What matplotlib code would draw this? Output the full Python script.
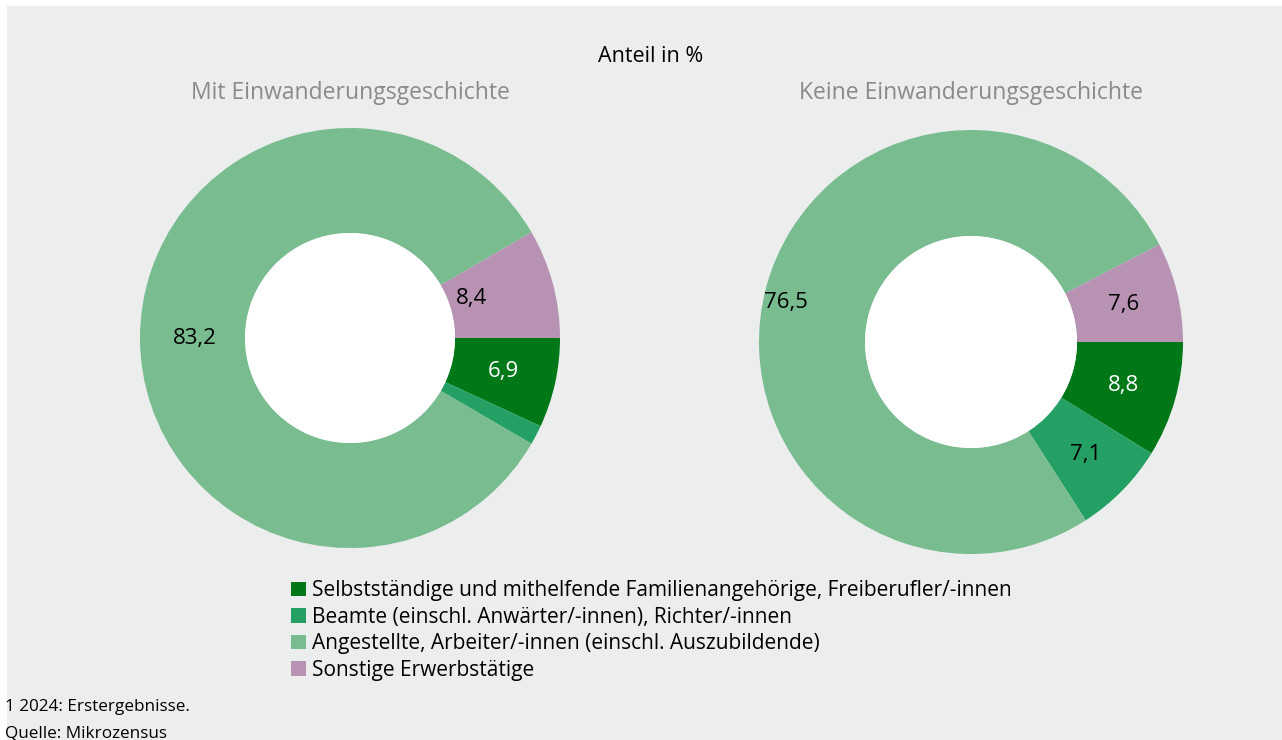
import matplotlib
matplotlib.use("Agg")
import matplotlib.pyplot as plt
from matplotlib.patches import Patch, Rectangle, Circle
import numpy as np

plt.rcParams['font.family'] = ['Open Sans', 'DejaVu Sans']

categories = [
    "Selbstständige und mithelfende Familienangehörige, Freiberufler/-innen",
    "Beamte (einschl. Anwärter/-innen), Richter/-innen",
    "Angestellte, Arbeiter/-innen (einschl. Auszubildende)",
    "Sonstige Erwerbstätige",
]
colors = ["#007818", "#24a064", "#78bc90", "#b892b2"]
mit_values = [6.9, 1.5, 83.2, 8.4]
mit_labels = ["6,9", "", "83,2", "8,4"]
keine_values = [8.8, 7.1, 76.5, 7.6]
keine_labels = ["8,8", "7,1", "76,5", "7,6"]
label_colors = ["white", "black", "black", "black"]
titles = ["Mit Einwanderungsgeschichte", "Keine Einwanderungsgeschichte"]

W, H = 1282, 740
fig = plt.figure(figsize=(W / 100, H / 100), dpi=100)
fig.patch.set_facecolor("white")
fig.patches.append(Rectangle((7 / W, 0), 1 - 7 / W, (H - 6) / H,
                             transform=fig.transFigure, facecolor="#eceeed",
                             edgecolor="none", zorder=-10))


def donut(cx, cy, r, values, labels, title, label_r, label_da):
    ax = fig.add_axes([(cx - r) / W, (H - cy - r) / H, 2 * r / W, 2 * r / H])
    wedges, _ = ax.pie(values, colors=colors, startangle=0, counterclock=False,
                       radius=1.0, wedgeprops=dict(width=0.5, linewidth=0))
    ax.add_patch(Circle((0, 0), 0.5, facecolor="white", edgecolor="none"))
    for w, lab, col, lr, da in zip(wedges, labels, label_colors, label_r, label_da):
        if not lab:
            continue
        ang = np.deg2rad((w.theta1 + w.theta2) / 2 + da)
        ax.text(lr * np.cos(ang), lr * np.sin(ang), lab, ha="center",
                va="center", color=col, fontsize=16)
    ax.set_xlim(-1, 1)
    ax.set_ylim(-1, 1)
    ax.set_aspect("equal")
    ax.axis("off")
    fig.text(cx / W, 1 - 93 / H, title, ha="center", va="center",
             color="#8a8a8a", fontsize=16.5)
    return ax


axl = donut(350, 338, 210, mit_values, mit_labels, titles[0],
            [0.75, 0.75, 0.74, 0.61], [0, 0, 0, 3])
axr = donut(971, 342, 212, keine_values, keine_labels, titles[1],
            [0.75, 0.76, 0.89, 0.74], [0, 0, 3, 0])

fig.text(651 / W, 1 - 57 / H, "Anteil in %", ha="center", va="center",
         color="black", fontsize=15.5)

handles = [Patch(facecolor=c, edgecolor="none") for c in colors]
fig.legend(handles, categories, loc="upper left",
           bbox_to_anchor=(283 / W, 1 - 572 / H), frameon=False,
           fontsize=15, handlelength=0.7, handleheight=0.7,
           handletextpad=0.3, labelspacing=0.26, borderaxespad=0)

fig.text(5 / W, 1 - 707 / H, "1 2024: Erstergebnisse.", ha="left",
         va="center", fontsize=12.3)
fig.text(5 / W, 1 - 734 / H, "Quelle: Mikrozensus", ha="left",
         va="center", fontsize=12.3)

fig.savefig("out.png", dpi=100, facecolor=fig.get_facecolor())
